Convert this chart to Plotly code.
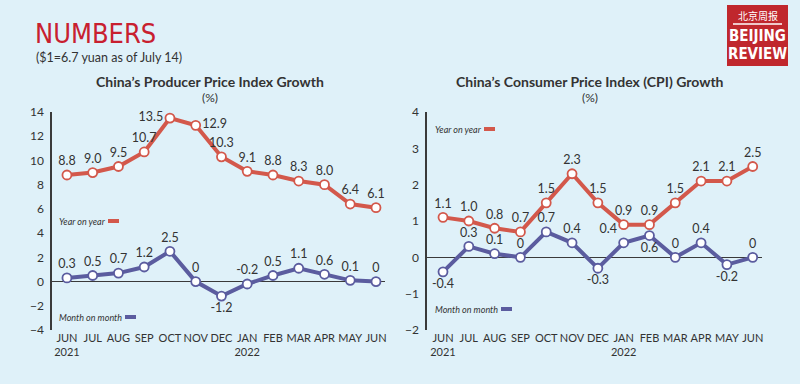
import plotly.graph_objects as go

months = ["JUN<br>2021", "JUL", "AUG", "SEP", "OCT", "NOV", "DEC", "JAN<br>2022",
          "FEB", "MAR", "APR", "MAY", "JUN"]

ppi_yoy = [8.8, 9.0, 9.5, 10.7, 13.5, 12.9, 10.3, 9.1, 8.8, 8.3, 8.0, 6.4, 6.1]
ppi_mom = [0.3, 0.5, 0.7, 1.2, 2.5, 0, -1.2, -0.2, 0.5, 1.1, 0.6, 0.1, 0]
cpi_yoy = [1.1, 1.0, 0.8, 0.7, 1.5, 2.3, 1.5, 0.9, 0.9, 1.5, 2.1, 2.1, 2.5]
cpi_mom = [-0.4, 0.3, 0.1, 0, 0.7, 0.4, -0.3, 0.4, 0.6, 0, 0.4, -0.2, 0]

ppi_yoy_pos = ["top center"] * 13
ppi_yoy_pos[4] = "middle left"
ppi_yoy_pos[5] = "middle right"
ppi_mom_pos = ["top center"] * 13
ppi_mom_pos[6] = "bottom center"
cpi_yoy_pos = ["top center"] * 13
cpi_mom_pos = ["top center"] * 13
for i in (0, 6, 8, 11):
    cpi_mom_pos[i] = "bottom center"
cpi_mom_pos[7] = "top left"

RED = "#d3584b"
BLUE = "#5b5c9f"
BG = "#dff1f9"
TXT = "#333333"
FONT = "Lato"


def fmt(v):
    return "0" if v == 0 else f"{v:.1f}"


def line(y, color, pos, xa, ya):
    return go.Scatter(
        x=list(range(len(y))), y=y, mode="lines+markers+text",
        text=[fmt(v) for v in y], textposition=pos,
        textfont=dict(family=FONT, size=12.5, color=TXT),
        line=dict(color=color, width=4),
        marker=dict(size=9, color="white", line=dict(color=color, width=1.8)),
        xaxis=xa, yaxis=ya, showlegend=False, cliponaxis=False,
    )


fig = go.Figure()
fig.add_trace(line(ppi_yoy, RED, ppi_yoy_pos, "x", "y"))
fig.add_trace(line(ppi_mom, BLUE, ppi_mom_pos, "x", "y"))
fig.add_trace(line(cpi_yoy, RED, cpi_yoy_pos, "x2", "y2"))
fig.add_trace(line(cpi_mom, BLUE, cpi_mom_pos, "x2", "y2"))

H = 384.0
W = 800.0
ydom = [1 - 330 / H, 1 - 112 / H]

xcommon = dict(
    tickmode="array", tickvals=list(range(len(months))), ticktext=months,
    showgrid=False, zeroline=False, showline=False, ticks="", tickangle=0,
    tickfont=dict(family=FONT, size=11, color=TXT), automargin=False,
)
ycommon = dict(
    showgrid=False, showline=True, linecolor="#3a3a3a", linewidth=1.5,
    zeroline=True, zerolinecolor="#3a3a3a", zerolinewidth=1.2, ticks="",
    tickfont=dict(family=FONT, size=12, color=TXT), domain=ydom,
    ticklabelstandoff=4, automargin=False,
)

fig.update_layout(
    width=800, height=384,
    margin=dict(l=0, r=0, t=0, b=0, pad=0, autoexpand=False),
    paper_bgcolor=BG, plot_bgcolor=BG,
    xaxis=dict(domain=[52 / W, 385 / W], range=[-0.58, 12.35], anchor="y", **xcommon),
    yaxis=dict(range=[-4, 14], dtick=2, anchor="x", **ycommon),
    xaxis2=dict(domain=[427 / W, 762 / W], range=[-0.62, 12.36], anchor="y2", **xcommon),
    yaxis2=dict(range=[-2, 4], dtick=1, anchor="x2", **ycommon),
    showlegend=False,
)

ann = []
shapes = []


def pa(x, y, text, size, color=TXT, bold=False, italic=False, xanchor="left", family=FONT):
    if bold:
        text = f"<b>{text}</b>"
    if italic:
        text = f"<i>{text}</i>"
    ann.append(dict(x=x / W, y=1 - y / H, xref="paper", yref="paper", text=text,
                    showarrow=False, xanchor=xanchor, yanchor="middle",
                    font=dict(family=family, size=size, color=color)))


pa(33, 34, "NUMBERS", 27, color="#c8202f", family="DejaVu Sans Condensed, Roboto")
pa(34, 58, "($1=6.7 yuan as of July 14)", 12.5)
pa(210, 82, "China’s Producer Price Index Growth", 14, bold=True, xanchor="center")
pa(210, 97, "(%)", 12, xanchor="center")
pa(590, 82, "China’s Consumer Price Index (CPI) Growth", 14, bold=True, xanchor="center")
pa(590, 97, "(%)", 12, xanchor="center")


def legend(x, y, text, color, seg_x0):
    pa(x, y, text, 9, italic=True)
    shapes.append(dict(type="line", xref="paper", yref="paper",
                       x0=seg_x0 / W, x1=(seg_x0 + 11) / W, y0=1 - y / H, y1=1 - y / H,
                       line=dict(color=color, width=4)))


legend(57, 221, "Year on year", RED, 108)
legend(57, 317, "Month on month", BLUE, 125)
legend(433, 129, "Year on year", RED, 484)
legend(433, 309, "Month on month", BLUE, 501)

# logo
shapes.append(dict(type="rect", xref="paper", yref="paper",
                   x0=727 / W, x1=788 / W, y0=1 - 66 / H, y1=1 - 5 / H,
                   fillcolor="#c0272d", line=dict(width=0)))
shapes.append(dict(type="line", xref="paper", yref="paper",
                   x0=733 / W, x1=782 / W, y0=1 - 24 / H, y1=1 - 24 / H,
                   line=dict(color="white", width=1.5)))
pa(757.5, 15, "北京周报", 10, color="white", xanchor="center", family="Noto Sans CJK SC")
pa(757.5, 36, "BEIJING", 15, color="white", bold=True, xanchor="center", family="DejaVu Sans Condensed, Roboto")
pa(757.5, 54, "REVIEW", 15, color="white", bold=True, xanchor="center", family="DejaVu Sans Condensed, Roboto")

fig.update_layout(annotations=ann, shapes=shapes)
fig.write_html("out.html", config={"displayModeBar": False},
               post_script="document.body.style.margin='0';document.body.style.background='%s';" % BG)
